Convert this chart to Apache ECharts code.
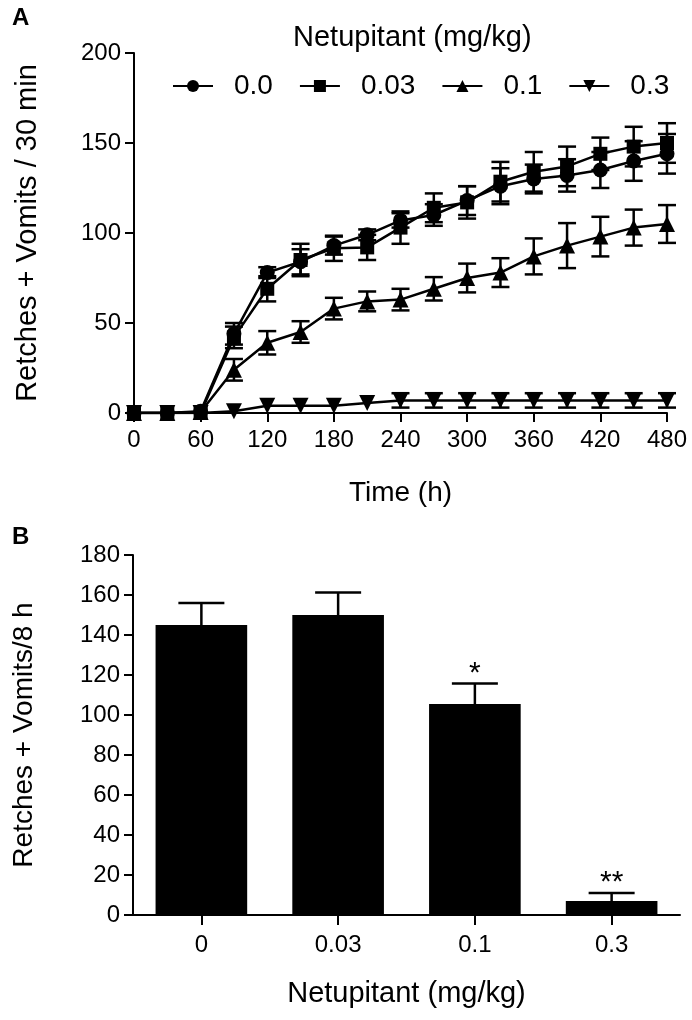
<!DOCTYPE html>
<html><head><meta charset="utf-8">
<script src="https://cdn.jsdelivr.net/npm/echarts@6/dist/echarts.min.js"></script>
<style>html,body{margin:0;padding:0;background:#fff}#c{width:692px;height:1020px}</style>
</head><body><div id="c"></div>
<script>
// ---- Panel A data ----
const times = [0,30,60,90,120,150,180,210,240,270,300,330,360,390,420,450,480];
const seriesNames = ['0.0','0.03','0.1','0.3'];
const mean00 = [0,0,1,44,78,84,93,99,107,110,118,126,130,132,135,140,144];
const sem00  = [0,0,0,6,3,7,5,3,4,6,8,10,8,9,10,11,11];
const mean003 = [0,0,0,42,69,85,91.5,92,103,114,117,128.5,134,137,144,148,150];
const sem003  = [0,0,0,6,7,9,7,7,9,8,9,11,11,11,9,11,11];
const mean01 = [0,0,0.5,24,39,45,58,62,63,69,75,78,87,93,98,103,105];
const sem01  = [0,0,0,6,6.5,6,6,5.5,6,6.5,8,8,10,12.5,11,10,10.5];
const mean03 = [0,0,0,1,4,4,4,5.5,7,7,7,7,7,7,7,7,7];
const sem03  = [0,0,0,0,0,0,0,0,4,4,4,4,4,4,4,4,4];
// ---- Panel B data ----
const doseLabels = ['0','0.03','0.1','0.3'];
const totalMean = [145,150,105.5,7];
const totalSem  = [11,11.3,10.3,4];
const sigMarks  = ['','','*','**'];

const FONT = 'Liberation Sans, Arial, Helvetica, sans-serif';
const BLACK = '#000';

const chart = echarts.init(document.getElementById('c'), null, {renderer:'canvas'});

function pairs(means){ return times.map((t,i)=>[t, means[i]]); }
function errData(means, sems){ return times.map((t,i)=>[t, means[i]-sems[i], means[i]+sems[i]]); }

function errRender(params, api){
  const x = api.value(0), lo = api.value(1), hi = api.value(2);
  if (!(hi - lo > 0)) return null;
  const a = api.coord([x, lo]), b = api.coord([x, hi]);
  const cw = 9;
  const st = {stroke:BLACK, lineWidth:2.5};
  return {type:'group', children:[
    {type:'line', shape:{x1:a[0],y1:a[1],x2:b[0],y2:b[1]}, style:st},
    {type:'line', shape:{x1:a[0]-cw,y1:a[1],x2:a[0]+cw,y2:a[1]}, style:st},
    {type:'line', shape:{x1:b[0]-cw,y1:b[1],x2:b[0]+cw,y2:b[1]}, style:st}
  ]};
}

function barErrRender(params, api){
  const idx = api.value(0), m = api.value(1), hi = api.value(2);
  const a = api.coord([idx, m]), b = api.coord([idx, hi]);
  const cw = 23;
  const st = {stroke:BLACK, lineWidth:2.5};
  const sig = sigMarks[params.dataIndex];
  const children = [
    {type:'line', shape:{x1:a[0],y1:a[1],x2:b[0],y2:b[1]}, style:st},
    {type:'line', shape:{x1:b[0]-cw,y1:b[1],x2:b[0]+cw,y2:b[1]}, style:st}
  ];
  if (sig) children.push({type:'text', x:b[0], y:b[1]+5, style:{text:sig, fill:BLACK, fontSize:30, fontFamily:FONT, align:'center', verticalAlign:'bottom'}});
  return {type:'group', children};
}

const lineStyle = {color:BLACK, width:2.5};
const symbols = [
  {symbol:'circle', size:15, rotate:0},
  {symbol:'rect', size:14, rotate:0},
  {symbol:'triangle', size:16, rotate:0},
  {symbol:'triangle', size:16, rotate:180}
];
const meansA = [mean00, mean003, mean01, mean03];
const semsA = [sem00, sem003, sem01, sem03];

const series = [];
meansA.forEach((m,i)=>{
  series.push({type:'custom', xAxisIndex:0, yAxisIndex:0, renderItem:errRender,
    data: errData(m, semsA[i]), encode:{x:0, y:[1,2]}, silent:true, z:2});
});
meansA.forEach((m,i)=>{
  series.push({type:'line', name:seriesNames[i], xAxisIndex:0, yAxisIndex:0,
    data: pairs(m), symbol:symbols[i].symbol, symbolSize:symbols[i].size,
    symbolRotate:symbols[i].rotate, showAllSymbol:true,
    lineStyle, itemStyle:{color:BLACK}, z:3, animation:false});
});
series.push({type:'bar', xAxisIndex:1, yAxisIndex:1, data: totalMean, barWidth:'67%',
  itemStyle:{color:BLACK}, animation:false});
series.push({type:'custom', xAxisIndex:1, yAxisIndex:1, renderItem:barErrRender,
  data: totalMean.map((m,i)=>[i, m, m+totalSem[i]]), encode:{x:0, y:[1,2]}, z:4});

const axisLine = {show:true, lineStyle:{color:BLACK, width:2}};
const axisTick = {show:true, length:9, lineStyle:{color:BLACK, width:2}};
const tickFont = {color:BLACK, fontSize:24, fontFamily:FONT};
const nameFont = {color:BLACK, fontSize:29, fontFamily:FONT};

chart.setOption({
  animation:false,
  backgroundColor:'#fff',
  grid:[
    {left:134, top:53, width:533, height:360},
    {left:133, top:555, width:547, height:360}
  ],
  legend:{
    data: seriesNames, left:167, top:67, itemWidth:40, itemHeight:15, itemGap:26,
    textStyle:{color:BLACK, fontSize:28, fontFamily:FONT, padding:[0,0,0,16]},
    selectedMode:false
  },
  xAxis:[
    {type:'value', gridIndex:0, min:0, max:480, interval:60,
      axisLine, axisTick, splitLine:{show:false},
      axisLabel:{...tickFont, margin:15},
      name:'Time (h)', nameLocation:'middle', nameGap:66, nameTextStyle:{...nameFont, fontSize:28}},
    {type:'category', gridIndex:1, data: doseLabels,
      axisLine, axisTick:{show:true, length:10, alignWithLabel:true, lineStyle:{color:BLACK, width:2}},
      axisLabel:{...tickFont, margin:18},
      name:'Netupitant (mg/kg)', nameLocation:'middle', nameGap:64, nameTextStyle:nameFont}
  ],
  yAxis:[
    {type:'value', gridIndex:0, min:0, max:200, interval:50,
      axisLine, axisTick, splitLine:{show:false},
      axisLabel:{...tickFont, margin:13},
      name:'Retches + Vomits / 30 min', nameLocation:'middle', nameGap:92, nameTextStyle:nameFont},
    {type:'value', gridIndex:1, min:0, max:180, interval:20,
      axisLine, axisTick, splitLine:{show:false},
      axisLabel:{...tickFont, margin:13},
      name:'Retches + Vomits/8 h', nameLocation:'middle', nameGap:95, nameTextStyle:{...nameFont, fontSize:28}}
  ],
  graphic:[
    {type:'text', left:12, top:6, style:{text:'A', fill:BLACK, fontSize:24, fontWeight:'bold', fontFamily:FONT}},
    {type:'text', left:12, top:525, style:{text:'B', fill:BLACK, fontSize:24, fontWeight:'bold', fontFamily:FONT}},
    {type:'text', left:293, top:23, style:{text:'Netupitant (mg/kg)', fill:BLACK, fontSize:29, fontFamily:FONT}}
  ],
  series
});
</script></body></html>
